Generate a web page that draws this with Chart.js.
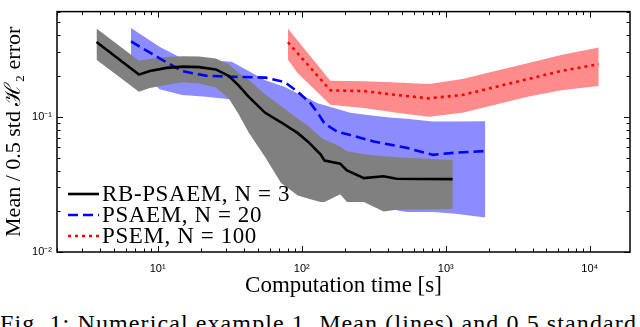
<!DOCTYPE html>
<html>
<head>
<meta charset="utf-8">
<script src="https://cdn.jsdelivr.net/npm/chart.js@4.4.0/dist/chart.umd.min.js"></script>
<style>
  html, body { margin: 0; padding: 0; background: #fff; }
  #wrap { position: relative; width: 640px; height: 327px; overflow: hidden; }
  #box { position: absolute; left: 0; top: 0; width: 640px; height: 300px; }
  #caption {
    position: absolute; left: 0; top: 311px; white-space: nowrap;
    font-family: "Liberation Serif", serif; font-size: 24px; line-height: 24px;
    letter-spacing: 1.1px; color: #000;
  }
</style>
</head>
<body>
<div id="wrap">
  <div id="box"><canvas id="chart"></canvas></div>
  <div id="caption">Fig. 1: Numerical example 1. Mean (lines) and 0.5 standard</div>
</div>
<script>
// RB-PSAEM, N = 3
const rbTime  = [3.76, 7.41, 8.81, 11.5, 14.9, 19.4, 25.3, 31.1, 36.4, 42.7, 55.8, 71.8, 93.9, 110, 135, 144, 185, 206, 270, 370, 455, 1117];
const rbMean  = [0.357, 0.205, 0.218, 0.23, 0.235, 0.233, 0.224, 0.201, 0.171, 0.141, 0.107, 0.0911, 0.0757, 0.0658, 0.0528, 0.0474, 0.0449, 0.0402, 0.0352, 0.0363, 0.0348, 0.0346];
const rbUpper = [0.449, 0.26, 0.268, 0.277, 0.281, 0.279, 0.27, 0.245, 0.212, 0.189, 0.146, 0.12, 0.0968, 0.0863, 0.071, 0.0676, 0.0603, 0.0556, 0.0528, 0.051, 0.0503, 0.048];
const rbLower = [0.264, 0.153, 0.163, 0.172, 0.18, 0.176, 0.165, 0.137, 0.105, 0.077, 0.0503, 0.0324, 0.0262, 0.0249, 0.0234, 0.0234, 0.0267, 0.0234, 0.0234, 0.0199, 0.0205, 0.0208];

// PSAEM, N = 20
const psaemTime  = [6.53, 10.3, 14.8, 21.7, 32.7, 55.8, 76.5, 93.9, 115, 129, 144, 177, 217, 316, 407, 532, 815, 1170, 1880];
const psaemMean  = [0.361, 0.271, 0.218, 0.201, 0.198, 0.195, 0.18, 0.153, 0.126, 0.107, 0.0892, 0.0774, 0.0733, 0.0657, 0.0623, 0.059, 0.0523, 0.0543, 0.0558];
const psaemUpper = [0.454, 0.33, 0.27, 0.262, 0.255, 0.186, 0.166, 0.149, 0.134, 0.126, 0.122, 0.114, 0.107, 0.102, 0.0989, 0.0968, 0.0922, 0.0922, 0.0929];
const psaemLower = [0.26, 0.16, 0.145, 0.141, 0.134, 0.077, 0.0574, 0.0488, 0.0414, 0.0382, 0.0351, 0.0324, 0.0275, 0.0234, 0.0208, 0.0198, 0.0198, 0.0192, 0.018];

// PSEM, N = 100
const psemTime  = [80.2, 93.9, 158, 270, 455, 765, 1306, 2198, 3700, 6320, 11530];
const psemMean  = [0.356, 0.294, 0.157, 0.155, 0.145, 0.137, 0.145, 0.166, 0.19, 0.218, 0.245];
const psemUpper = [0.449, 0.365, 0.185, 0.183, 0.179, 0.175, 0.19, 0.218, 0.249, 0.286, 0.325];
const psemLower = [0.264, 0.21, 0.123, 0.116, 0.107, 0.1, 0.107, 0.123, 0.141, 0.157, 0.169];

// Axis ticks
const xTickValues = [10, 100, 1000, 10000];
const xTickLabels = ['10\u00B9', '10\u00B2', '10\u00B3', '10\u2074'];
const yTickValues = [0.01, 0.1];
const yTickLabels = ['10\u207B\u00B2', '10\u207B\u00B9'];

const serif = '"Liberation Serif", "Times New Roman", serif';

function pts(times, vals) {
  return times.map((t, i) => ({ x: t, y: vals[i] }));
}

function tickLabel(values, labels) {
  return (value) => {
    const i = values.findIndex(v => Math.abs(v - value) / v < 1e-6);
    return i >= 0 ? labels[i] : '';
  };
}

function band(times, upper, lower, color, order) {
  return [
    { data: pts(times, upper), borderWidth: 0, pointRadius: 0, backgroundColor: color, fill: '+1', order: order },
    { data: pts(times, lower), borderWidth: 0, pointRadius: 0, fill: false, order: order }
  ];
}

function meanLine(label, times, vals, color, dash, order) {
  return {
    label: label, data: pts(times, vals), borderColor: color, borderWidth: 2.6,
    borderDash: dash, pointRadius: 0, fill: false, order: order, tension: 0
  };
}

// Inward ticks and full box, like matlab axes
const axesBox = {
  id: 'axesBox',
  afterDraw(chart) {
    const { ctx, chartArea: a, scales } = chart;
    ctx.save();
    ctx.strokeStyle = '#000';
    ctx.lineWidth = 1;
    const isTick = v => {
      const m = v / Math.pow(10, Math.floor(Math.log10(v) + 1e-9));
      return Math.abs(m - Math.round(m)) < 1e-6;
    };
    const isMajor = v => Math.abs(Math.log10(v) - Math.round(Math.log10(v))) < 1e-6;
    ctx.beginPath();
    scales.x.ticks.forEach(t => {
      if (!isTick(t.value)) return;
      const px = Math.round(scales.x.getPixelForValue(t.value)) + 0.5;
      const len = isMajor(t.value) ? 6 : 3.5;
      ctx.moveTo(px, a.bottom); ctx.lineTo(px, a.bottom - len);
      ctx.moveTo(px, a.top); ctx.lineTo(px, a.top + len);
    });
    scales.y.ticks.forEach(t => {
      if (!isTick(t.value)) return;
      const py = Math.round(scales.y.getPixelForValue(t.value)) + 0.5;
      const len = isMajor(t.value) ? 6 : 3.5;
      ctx.moveTo(a.left, py); ctx.lineTo(a.left + len, py);
      ctx.moveTo(a.right, py); ctx.lineTo(a.right - len, py);
    });
    ctx.stroke();
    ctx.lineWidth = 1.5;
    ctx.strokeRect(a.left, a.top, a.right - a.left, a.bottom - a.top);
    ctx.restore();
  }
};

// Legend drawn inside the axes, lower left, no frame
const innerLegend = {
  id: 'innerLegend',
  afterDraw(chart) {
    const { ctx, chartArea: a } = chart;
    const items = chart.data.datasets.filter(d => d.label);
    ctx.save();
    ctx.font = '23px ' + serif;
    ctx.letterSpacing = '0.6px';
    ctx.textBaseline = 'middle';
    ctx.fillStyle = '#000';
    items.forEach((d, i) => {
      const y = 194 + i * 21;
      const x0 = a.left + 11;
      ctx.beginPath();
      ctx.strokeStyle = d.borderColor;
      ctx.lineWidth = d.borderWidth;
      ctx.setLineDash(d.borderDash || []);
      ctx.moveTo(x0, y); ctx.lineTo(x0 + 31, y);
      ctx.stroke();
      ctx.setLineDash([]);
      ctx.fillText(d.label, x0 + 34, y + 1);
    });
    ctx.restore();
  }
};

const datasets = [
  meanLine('RB-PSAEM, N = 3', rbTime, rbMean, '#000000', [], 1),
  meanLine('PSAEM, N = 20', psaemTime, psaemMean, '#0000ff', [10, 5], 2),
  meanLine('PSEM, N = 100', psemTime, psemMean, '#ff0000', [3, 4], 3),
  ...band(rbTime, rbUpper, rbLower, '#808080', 4),
  ...band(psaemTime, psaemUpper, psaemLower, '#8c8cff', 5),
  ...band(psemTime, psemUpper, psemLower, '#ff8c8c', 6)
];

new Chart(document.getElementById('chart'), {
  type: 'line',
  data: { datasets: datasets },
  options: {
    responsive: true,
    maintainAspectRatio: false,
    animation: false,
    layout: { padding: { top: 1, right: 5, left: 0, bottom: 0 } },
    plugins: { legend: { display: false }, tooltip: { enabled: false } },
    scales: {
      x: {
        type: 'logarithmic',
        min: 2,
        max: 19000,
        grid: { display: false, drawTicks: false },
        border: { display: false },
        afterFit: s => { s.height = 48; },
        ticks: {
          autoSkip: false, maxRotation: 0, padding: 10, color: '#000',
          font: { family: '"Liberation Sans", Arial, sans-serif', size: 11 },
          callback: tickLabel(xTickValues, xTickLabels)
        },
        title: {
          display: true, text: 'Computation time [s]', color: '#000',
          font: { family: serif, size: 23, lineHeight: 1 },
          padding: { top: 0, bottom: 3 }
        }
      },
      y: {
        type: 'logarithmic',
        min: 0.01,
        max: 0.6,
        grid: { display: false, drawTicks: false },
        border: { display: false },
        afterFit: s => { s.width = 57; },
        ticks: {
          autoSkip: false, padding: 5, color: '#000',
          font: { family: '"Liberation Sans", Arial, sans-serif', size: 11 },
          callback: tickLabel(yTickValues, yTickLabels)
        },
        title: {
          display: true, text: 'Mean / 0.5 std \u210B\u2082 error', color: '#000',
          font: { family: serif, size: 22, lineHeight: 1 },
          padding: { top: 3, bottom: 0 }
        }
      }
    }
  },
  plugins: [axesBox, innerLegend]
});
</script>
</body>
</html>
